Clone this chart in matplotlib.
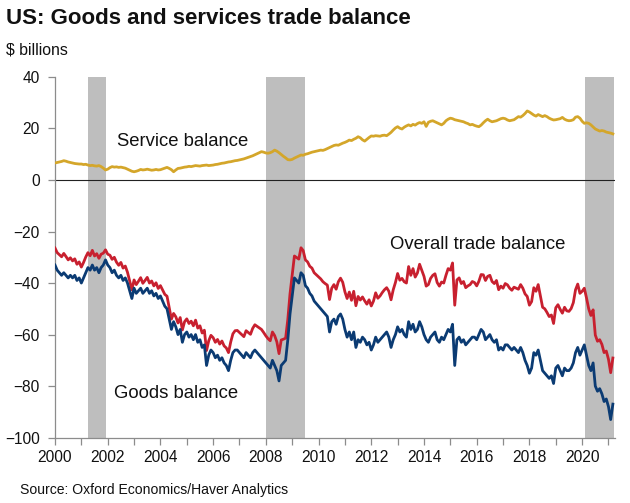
import numpy as np
import matplotlib
matplotlib.use("Agg")
import matplotlib.pyplot as plt
from matplotlib.ticker import MultipleLocator

plt.rcParams['font.family'] = ['Liberation Sans', 'DejaVu Sans']

# monthly, Jan 2000 .. Mar 2021, $ billions
goods = [
    -33, -35, -36, -37, -36, -37, -38, -37, -38, -37, -39, -38,   # 2000
    -40, -38, -36, -34, -35, -33, -35, -34, -36, -34, -33, -31,   # 2001
    -33, -34, -36, -35, -37, -38, -37, -39, -38, -40, -43, -46,   # 2002
    -42, -44, -43, -42, -44, -43, -42, -44, -43, -45, -44, -46,   # 2003
    -45, -47, -49, -50, -54, -58, -55, -57, -60, -58, -63, -60,   # 2004
    -59, -61, -60, -62, -60, -63, -62, -65, -64, -72, -68, -66,   # 2005
    -67, -69, -68, -70, -69, -71, -72, -74, -70, -67, -66, -66,   # 2006
    -67, -68, -69, -67, -68, -69, -67, -66, -67, -68, -69, -70,   # 2007
    -71, -72, -73, -70, -72, -74, -78, -72, -71, -70, -62, -52,   # 2008
    -45, -38, -39, -40, -36, -37, -41, -42, -44, -45, -47, -48,   # 2009
    -49, -50, -51, -52, -53, -59, -55, -54, -56, -53, -52, -54,   # 2010
    -58, -61, -59, -62, -59, -65, -62, -63, -61, -62, -64, -63,   # 2011
    -66, -64, -61, -63, -62, -61, -60, -59, -61, -65, -62, -60,   # 2012
    -57, -59, -58, -60, -61, -55, -58, -56, -59, -58, -55, -57,   # 2013
    -60, -62, -63, -61, -60, -59, -62, -63, -61, -62, -60, -58,   # 2014
    -59, -56, -72, -62, -61, -63, -62, -64, -63, -62, -61, -61,   # 2015
    -62, -60, -58, -59, -62, -61, -60, -62, -63, -62, -66, -65,   # 2016
    -66, -64, -64, -65, -66, -65, -66, -67, -65, -67, -70, -72,   # 2017
    -75, -73, -67, -68, -66, -70, -74, -75, -76, -77, -76, -79,   # 2018
    -73, -72, -74, -76, -73, -74, -74, -73, -71, -67, -65, -68,   # 2019
    -66, -64, -68, -72, -74, -71, -80, -82, -81, -83, -86, -85,   # 2020
    -88, -93, -87,                                                # 2021
]

services = [
    6.6, 6.8, 7.0, 7.2, 7.5, 7.3, 7.0, 6.8, 6.6, 6.4, 6.3, 6.2,
    6.2, 6.0, 6.1, 5.8, 5.6, 5.7, 5.5, 5.4, 5.6, 5.2, 4.6, 3.9,
    4.2, 4.8, 5.2, 5.0, 5.1, 4.9, 5.0, 4.8, 4.6, 4.2, 3.8, 3.4,
    3.2, 3.4, 3.7, 4.1, 3.9, 4.0, 4.2, 4.0, 3.8, 3.9, 4.1, 3.9,
    4.0, 4.3, 4.6, 4.9, 4.5, 4.0, 3.2, 3.9, 4.5, 4.6, 4.8, 5.0,
    5.1, 5.3, 5.2, 5.4, 5.6, 5.5, 5.4, 5.6, 5.7, 5.8, 5.6, 5.7,
    5.8, 6.0, 6.1, 6.3, 6.5, 6.6, 6.8, 7.0, 7.1, 7.3, 7.5, 7.6,
    7.8, 8.0, 8.2, 8.5, 8.8, 9.1, 9.4, 9.8, 10.2, 10.6, 11.0, 10.8,
    10.5, 10.4, 10.6, 11.0, 11.6, 11.2, 10.6, 9.9, 9.2, 8.6, 7.9, 7.8,
    8.0, 8.5, 8.9, 9.3, 9.7, 9.6, 10.0, 10.2, 10.5, 10.8, 11.0, 11.2,
    11.4, 11.6, 11.5, 11.8, 12.2, 12.6, 13.0, 13.4, 13.6, 13.5, 13.9, 14.3,
    14.6, 15.0, 15.5, 15.3, 15.8, 16.2, 16.8, 16.4, 15.6, 15.1, 15.8, 16.5,
    17.1, 17.0, 17.2, 17.1, 17.0, 17.3, 17.4, 17.2, 17.8, 18.5, 19.4, 20.2,
    20.7, 20.1, 19.8, 20.5, 21.0, 21.4, 21.0, 21.6, 21.3, 21.9, 22.3, 22.0,
    22.6, 20.8, 22.4, 22.8, 23.0, 22.6, 22.2, 21.8, 21.4, 22.0, 23.0, 23.6,
    24.0, 23.8, 23.4, 23.2, 23.0, 22.8, 22.6, 22.2, 21.9, 21.4, 21.6, 21.2,
    20.9, 20.7, 21.3, 22.2, 23.0, 23.6, 23.0, 22.6, 22.8, 23.0, 23.4, 23.8,
    24.0, 23.8, 23.3, 23.0, 23.2, 23.4, 24.0, 24.6, 24.4, 25.0, 25.8, 26.8,
    26.4, 25.8, 25.2, 24.8, 25.4, 25.0, 24.6, 25.0, 24.6, 24.0, 23.6, 23.3,
    23.4, 23.6, 23.8, 24.3, 23.6, 23.2, 23.0, 23.1, 23.4, 24.4, 24.6, 24.0,
    22.8, 22.0, 22.2, 22.0, 21.4, 20.6, 19.8, 19.4, 19.0, 19.2, 19.0, 18.6,
    18.4, 18.2, 17.9,
]

# recession periods (start, end) in decimal years
recessions = [(2001.25, 2001.92), (2008.0, 2009.47), (2020.12, 2021.22)]

goods = np.array(goods, dtype=float)
services = np.array(services, dtype=float)
overall = goods + services
t = 2000 + np.arange(len(goods)) / 12.0

GOLD = '#D4A62A'
RED = '#C8202F'
NAVY = '#0B3B73'
AXCOL = '#8C8C8C'

fig = plt.figure(figsize=(6.30, 5.03), dpi=100)
ax = fig.add_axes([0.0873, 0.130, 0.889, 0.717])

for a, b in recessions:
    ax.axvspan(a, b, color='#BEBEBE', lw=0, zorder=0)

ax.axhline(0, color='#222222', lw=0.8, zorder=1)
ax.plot(t, services, color=GOLD, lw=2.0, zorder=3)
ax.plot(t, overall, color=RED, lw=2.0, zorder=3)
ax.plot(t, goods, color=NAVY, lw=2.0, zorder=4)

ax.set_xlim(2000, 2021.25)
ax.set_ylim(-100, 40)
ax.xaxis.set_major_locator(MultipleLocator(2))
ax.xaxis.set_minor_locator(MultipleLocator(1))
ax.yaxis.set_major_locator(MultipleLocator(20))

for s in ['top', 'right']:
    ax.spines[s].set_visible(False)
for s in ['left', 'bottom']:
    ax.spines[s].set_color(AXCOL)
    ax.spines[s].set_linewidth(0.9)

ax.tick_params(axis='both', which='both', direction='out', color=AXCOL,
               width=0.9, labelsize=11.2, labelcolor='#111111')
ax.tick_params(axis='x', which='both', length=5, pad=4)
ax.tick_params(axis='y', which='major', length=5, pad=6)
ax.set_xticklabels([str(int(v)) for v in ax.get_xticks()])

ax.text(2002.36, 14.8, 'Service balance', fontsize=13.3, va='center', ha='left', color='#111111')
ax.text(2012.7, -24.9, 'Overall trade balance', fontsize=13.3, va='center', ha='left', color='#111111')
ax.text(2002.24, -82.7, 'Goods balance', fontsize=13.3, va='center', ha='left', color='#111111')

fig.text(0.0095, 0.964, 'US: Goods and services trade balance', fontsize=16.0,
         fontweight='bold', va='center', ha='left', color='#111111')
fig.text(0.0095, 0.900, '$ billions', fontsize=11.4, va='center', ha='left', color='#111111')
fig.text(0.032, 0.025, 'Source: Oxford Economics/Haver Analytics', fontsize=10.1,
         va='center', ha='left', color='#111111')

fig.savefig('out.png', dpi=100)
